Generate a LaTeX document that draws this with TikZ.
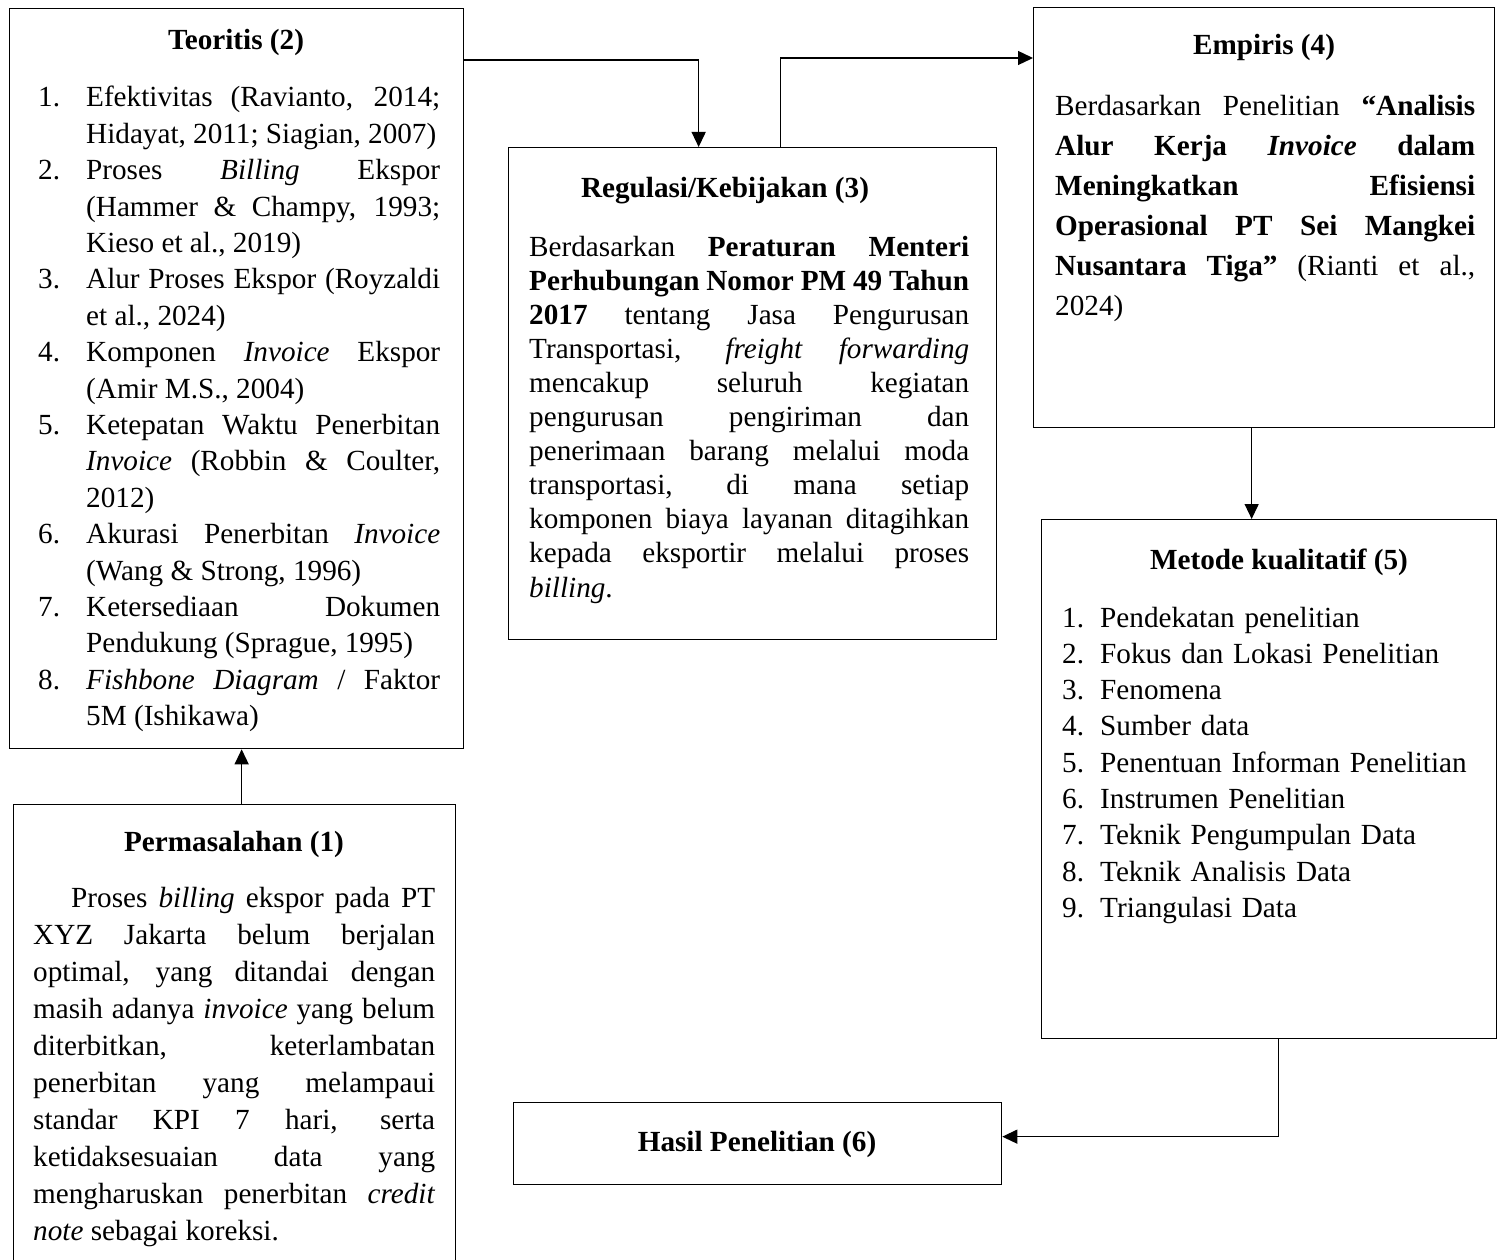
\documentclass[tikz,border=0pt]{standalone}
\usepackage{fontspec}
\setmainfont{Liberation Serif}
\usetikzlibrary{arrows.meta}
\newcommand{\jl}[2]{{\spaceskip=0pt\xspaceskip=0pt\makebox[#1pt][s]{#2}}}
\newcommand{\nl}[2]{{\spaceskip=0pt\xspaceskip=0pt\makebox[#1pt][l]{#2}}}
\newcommand{\numb}[1]{\makebox[48pt][l]{#1}}
\newcommand{\numm}[1]{\makebox[38pt][l]{#1}}
\tikzset{
  box/.style={draw, line width=1.3pt, anchor=north west, inner sep=0pt},
  ttl/.style={anchor=base, inner sep=0pt, font={\fontsize{29.2}{36.4}\selectfont\bfseries}},
  txt/.style={anchor=base west, inner sep=0pt, align=left},
  arr/.style={line width=1.3pt, -{Triangle[length=15pt,width=14pt]}},
}
\begin{document}
\begin{tikzpicture}[x=1pt,y=-1pt]
\useasboundingbox (0,0) rectangle (1504,1260);
\clip (0,0) rectangle (1504,1260);
% boxes
\node[box, minimum width=454pt, minimum height=740pt] (teo) at (9,8) {};
\node[box, minimum width=442pt, minimum height=470pt] (perm) at (13,804) {};
\node[box, minimum width=488pt, minimum height=492pt] (reg) at (508,147) {};
\node[box, minimum width=461pt, minimum height=420pt] (emp) at (1033,7) {};
\node[box, minimum width=455pt, minimum height=519pt] (met) at (1041,519) {};
\node[box, minimum width=488pt, minimum height=82pt] (has) at (513,1102) {};
% titles
\node[ttl] (teoT) at (236,50) {Teoritis (2)};
\node[ttl] (permT) at (234,851) {Permasalahan (1)};
\node[ttl] (regT) at (725,198) {Regulasi/Kebijakan (3)};
\node[ttl] (empT) at (1264,55) {Empiris (4)};
\node[ttl] (metT) at (1279,569) {Metode kualitatif (5)};
\node[ttl] (hasT) at (757,1151) {Hasil Penelitian (6)};
% Teoritis list
\node[txt, text width=402pt, font={\fontsize{29.2}{36.4}\selectfont\spaceskip=0pt\xspaceskip=0pt}] (teoL) at (38,107) {%
\numb{1.}\jl{354}{Efektivitas (Ravianto, 2014;}\\
\numb{}\nl{354}{Hidayat, 2011; Siagian, 2007)}\\
\numb{2.}\jl{354}{Proses \textit{Billing} Ekspor}\\
\numb{}\jl{354}{(Hammer \& Champy, 1993;}\\
\numb{}\nl{354}{Kieso et al., 2019)}\\
\numb{3.}\jl{354}{Alur Proses Ekspor (Royzaldi}\\
\numb{}\nl{354}{et al., 2024)}\\
\numb{4.}\jl{354}{Komponen \textit{Invoice} Ekspor}\\
\numb{}\nl{354}{(Amir M.S., 2004)}\\
\numb{5.}\jl{354}{Ketepatan Waktu Penerbitan}\\
\numb{}\jl{354}{\textit{Invoice} (Robbin \& Coulter,}\\
\numb{}\nl{354}{2012)}\\
\numb{6.}\jl{354}{Akurasi Penerbitan \textit{Invoice}}\\
\numb{}\nl{354}{(Wang \& Strong, 1996)}\\
\numb{7.}\jl{354}{Ketersediaan Dokumen}\\
\numb{}\nl{354}{Pendukung (Sprague, 1995)}\\
\numb{8.}\jl{354}{\textit{Fishbone Diagram} / Faktor}\\
\numb{}\nl{354}{5M (Ishikawa)}};
% Permasalahan text
\node[txt, text width=402pt, font={\fontsize{29.2}{37}\selectfont\spaceskip=0pt\xspaceskip=0pt}] (permX) at (33,907) {%
\hspace*{38pt}\jl{364}{Proses \textit{billing} ekspor pada PT}\\
\jl{402}{XYZ Jakarta belum berjalan}\\
\jl{402}{optimal, yang ditandai dengan}\\
\jl{402}{masih adanya \textit{invoice} yang belum}\\
\jl{402}{diterbitkan, keterlambatan}\\
\jl{402}{penerbitan yang melampaui}\\
\jl{402}{standar KPI 7 hari, serta}\\
\jl{402}{ketidaksesuaian data yang}\\
\jl{402}{mengharuskan penerbitan \textit{credit}}\\
\nl{402}{\textit{note} sebagai koreksi.}};
% Regulasi text
\node[txt, text width=440pt, font={\fontsize{29.2}{34.1}\selectfont\spaceskip=0pt\xspaceskip=0pt}] (regX) at (529,256) {%
\jl{440}{Berdasarkan \textbf{Peraturan Menteri}}\\
\jl{440}{\textbf{Perhubungan Nomor PM 49 Tahun}}\\
\jl{440}{\textbf{2017} tentang Jasa Pengurusan}\\
\jl{440}{Transportasi, \textit{freight forwarding}}\\
\jl{440}{mencakup seluruh kegiatan}\\
\jl{440}{pengurusan pengiriman dan}\\
\jl{440}{penerimaan barang melalui moda}\\
\jl{440}{transportasi, di mana setiap}\\
\jl{440}{komponen biaya layanan ditagihkan}\\
\jl{440}{kepada eksportir melalui proses}\\
\nl{440}{\textit{billing}.}};
% Empiris text
\node[txt, text width=420pt, font={\fontsize{29.2}{40}\selectfont\spaceskip=0pt\xspaceskip=0pt}] (empX) at (1055,116) {%
\jl{420}{Berdasarkan Penelitian \textbf{“Analisis}}\\
\jl{420}{\textbf{Alur Kerja \textit{Invoice} dalam}}\\
\jl{420}{\textbf{Meningkatkan Efisiensi}}\\
\jl{420}{\textbf{Operasional PT Sei Mangkei}}\\
\jl{420}{\textbf{Nusantara Tiga”} (Rianti et al.,}\\
\nl{420}{2024)}};
% Metode list
\node[txt, text width=420pt, font={\fontsize{29.2}{36.3}\selectfont\spaceskip=0pt\xspaceskip=0pt}] (metL) at (1062,627) {%
\numm{1.}Pendekatan penelitian\\
\numm{2.}Fokus dan Lokasi Penelitian\\
\numm{3.}Fenomena\\
\numm{4.}Sumber data\\
\numm{5.}Penentuan Informan Penelitian\\
\numm{6.}Instrumen Penelitian\\
\numm{7.}Teknik Pengumpulan Data\\
\numm{8.}Teknik Analisis Data\\
\numm{9.}Triangulasi Data};
% connectors
\draw[arr] ([xshift=7pt]perm.north) -- ([xshift=7pt]perm.north |- teo.south);
\draw[arr] ([yshift=-52pt]teo.north east) -| ([xshift=-54pt]reg.north);
\draw[arr] ([xshift=28pt]reg.north) |- ([yshift=-51pt]emp.north west);
\draw[arr] ([xshift=-12.5pt]emp.south) -- ([xshift=-12.5pt]emp.south |- met.north);
\draw[arr] ([xshift=9.5pt]met.south) |- ([yshift=7pt]has.east);
\end{tikzpicture}
\end{document}
